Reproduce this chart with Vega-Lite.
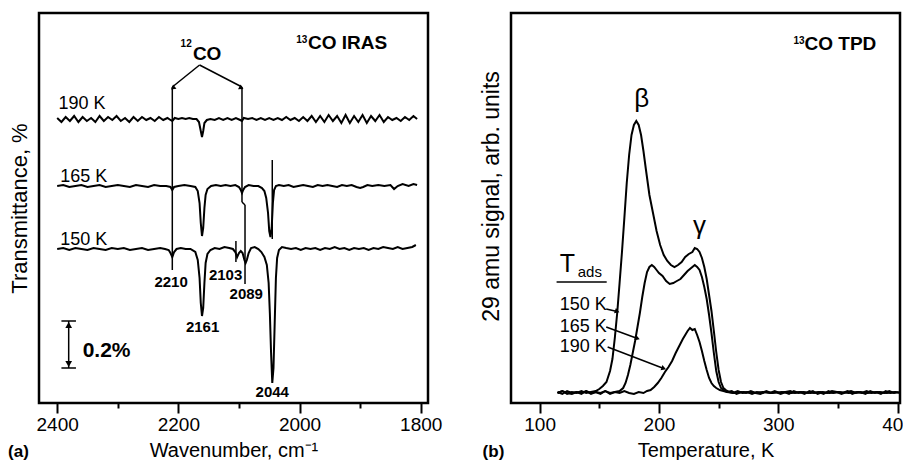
{
"$schema":"https://vega.github.io/schema/vega-lite/v6.json",
"padding":{"left":6,"top":11,"right":0,"bottom":0},
"background":"white",
"bounds":"flush",
"spacing":83,
"config":{
"view":{"stroke":"black","strokeWidth":2.5},
"font":"Liberation Sans",
"axis":{"domain":false,"grid":false,"tickColor":"black","tickWidth":2,"labelColor":"black","titleColor":"black","labelFont":"Liberation Sans","titleFont":"Liberation Sans","labelFontSize":19,"titleFontSize":20,"titleFontWeight":"normal"},
"text":{"font":"Liberation Sans","color":"black"}
},
"datasets":{
"irA":[
{"s":"190 K","x":2400,"y":285},{"s":"190 K","x":2393,"y":281},{"s":"190 K","x":2386,"y":286},{"s":"190 K","x":2379,"y":282},{"s":"190 K","x":2372,"y":287},{"s":"190 K","x":2365,"y":281},{"s":"190 K","x":2358,"y":286},{"s":"190 K","x":2351,"y":282},{"s":"190 K","x":2344,"y":285},{"s":"190 K","x":2337,"y":281},{"s":"190 K","x":2330,"y":287},{"s":"190 K","x":2323,"y":282},{"s":"190 K","x":2316,"y":286},{"s":"190 K","x":2309,"y":283},{"s":"190 K","x":2302,"y":287},{"s":"190 K","x":2295,"y":282},{"s":"190 K","x":2288,"y":285},{"s":"190 K","x":2281,"y":281},{"s":"190 K","x":2274,"y":286},{"s":"190 K","x":2267,"y":282},{"s":"190 K","x":2260,"y":286},{"s":"190 K","x":2253,"y":283},{"s":"190 K","x":2246,"y":285},{"s":"190 K","x":2239,"y":282},{"s":"190 K","x":2232,"y":286},{"s":"190 K","x":2225,"y":283},{"s":"190 K","x":2218,"y":285},{"s":"190 K","x":2213,"y":283},{"s":"190 K","x":2210,"y":282},{"s":"190 K","x":2206,"y":285},{"s":"190 K","x":2200,"y":284},{"s":"190 K","x":2194,"y":285},{"s":"190 K","x":2188,"y":284},{"s":"190 K","x":2182,"y":285},{"s":"190 K","x":2176,"y":284},{"s":"190 K","x":2170,"y":284},{"s":"190 K","x":2166,"y":281},{"s":"190 K","x":2163,"y":272},{"s":"190 K","x":2161,"y":266},{"s":"190 K","x":2159,"y":272},{"s":"190 K","x":2157,"y":280},{"s":"190 K","x":2153,"y":283},{"s":"190 K","x":2147,"y":284},{"s":"190 K","x":2140,"y":283},{"s":"190 K","x":2133,"y":285},{"s":"190 K","x":2126,"y":283},{"s":"190 K","x":2119,"y":285},{"s":"190 K","x":2112,"y":283},{"s":"190 K","x":2105,"y":285},{"s":"190 K","x":2098,"y":283},{"s":"190 K","x":2095,"y":282},{"s":"190 K","x":2092,"y":285},{"s":"190 K","x":2085,"y":284},{"s":"190 K","x":2078,"y":285},{"s":"190 K","x":2071,"y":283},{"s":"190 K","x":2064,"y":285},{"s":"190 K","x":2057,"y":283},{"s":"190 K","x":2050,"y":285},{"s":"190 K","x":2043,"y":283},{"s":"190 K","x":2036,"y":285},{"s":"190 K","x":2029,"y":283},{"s":"190 K","x":2022,"y":286},{"s":"190 K","x":2015,"y":283},{"s":"190 K","x":2008,"y":285},{"s":"190 K","x":2001,"y":282},{"s":"190 K","x":1994,"y":286},{"s":"190 K","x":1987,"y":282},{"s":"190 K","x":1980,"y":287},{"s":"190 K","x":1973,"y":281},{"s":"190 K","x":1966,"y":287},{"s":"190 K","x":1959,"y":281},{"s":"190 K","x":1952,"y":288},{"s":"190 K","x":1945,"y":282},{"s":"190 K","x":1938,"y":287},{"s":"190 K","x":1931,"y":280},{"s":"190 K","x":1924,"y":288},{"s":"190 K","x":1917,"y":280},{"s":"190 K","x":1910,"y":287},{"s":"190 K","x":1903,"y":281},{"s":"190 K","x":1896,"y":288},{"s":"190 K","x":1889,"y":280},{"s":"190 K","x":1882,"y":287},{"s":"190 K","x":1875,"y":282},{"s":"190 K","x":1868,"y":288},{"s":"190 K","x":1861,"y":281},{"s":"190 K","x":1854,"y":286},{"s":"190 K","x":1847,"y":283},{"s":"190 K","x":1840,"y":285},{"s":"190 K","x":1833,"y":282},{"s":"190 K","x":1826,"y":286},{"s":"190 K","x":1819,"y":283},{"s":"190 K","x":1812,"y":287},{"s":"190 K","x":1806,"y":284},
{"s":"165 K","x":2400,"y":217},{"s":"165 K","x":2390,"y":218},{"s":"165 K","x":2380,"y":216},{"s":"165 K","x":2370,"y":217},{"s":"165 K","x":2360,"y":218},{"s":"165 K","x":2350,"y":216},{"s":"165 K","x":2340,"y":217},{"s":"165 K","x":2330,"y":218},{"s":"165 K","x":2320,"y":216},{"s":"165 K","x":2310,"y":217},{"s":"165 K","x":2300,"y":218},{"s":"165 K","x":2290,"y":217},{"s":"165 K","x":2280,"y":216},{"s":"165 K","x":2270,"y":218},{"s":"165 K","x":2260,"y":217},{"s":"165 K","x":2250,"y":216},{"s":"165 K","x":2240,"y":218},{"s":"165 K","x":2230,"y":217},{"s":"165 K","x":2220,"y":217},{"s":"165 K","x":2213,"y":216},{"s":"165 K","x":2210,"y":213},{"s":"165 K","x":2207,"y":216},{"s":"165 K","x":2200,"y":217},{"s":"165 K","x":2190,"y":218},{"s":"165 K","x":2180,"y":217},{"s":"165 K","x":2172,"y":216},{"s":"165 K","x":2168,"y":212},{"s":"165 K","x":2165,"y":200},{"s":"165 K","x":2163,"y":180},{"s":"165 K","x":2161,"y":167},{"s":"165 K","x":2159,"y":175},{"s":"165 K","x":2157,"y":195},{"s":"165 K","x":2155,"y":208},{"s":"165 K","x":2152,"y":214},{"s":"165 K","x":2146,"y":217},{"s":"165 K","x":2138,"y":218},{"s":"165 K","x":2130,"y":217},{"s":"165 K","x":2122,"y":218},{"s":"165 K","x":2114,"y":217},{"s":"165 K","x":2106,"y":218},{"s":"165 K","x":2100,"y":216},{"s":"165 K","x":2097,"y":213},{"s":"165 K","x":2095,"y":210},{"s":"165 K","x":2093,"y":213},{"s":"165 K","x":2090,"y":216},{"s":"165 K","x":2084,"y":218},{"s":"165 K","x":2076,"y":217},{"s":"165 K","x":2068,"y":217},{"s":"165 K","x":2062,"y":215},{"s":"165 K","x":2058,"y":212},{"s":"165 K","x":2055,"y":205},{"s":"165 K","x":2052,"y":190},{"s":"165 K","x":2050,"y":172},{"s":"165 K","x":2048,"y":166},{"s":"165 K","x":2046,"y":175},{"s":"165 K","x":2044,"y":200},{"s":"165 K","x":2042,"y":213},{"s":"165 K","x":2039,"y":217},{"s":"165 K","x":2034,"y":218},{"s":"165 K","x":2026,"y":217},{"s":"165 K","x":2018,"y":218},{"s":"165 K","x":2010,"y":216},{"s":"165 K","x":2002,"y":217},{"s":"165 K","x":1994,"y":218},{"s":"165 K","x":1986,"y":217},{"s":"165 K","x":1978,"y":216},{"s":"165 K","x":1970,"y":218},{"s":"165 K","x":1962,"y":217},{"s":"165 K","x":1954,"y":218},{"s":"165 K","x":1946,"y":217},{"s":"165 K","x":1938,"y":216},{"s":"165 K","x":1930,"y":218},{"s":"165 K","x":1922,"y":217},{"s":"165 K","x":1914,"y":218},{"s":"165 K","x":1906,"y":216},{"s":"165 K","x":1900,"y":215},{"s":"165 K","x":1895,"y":216},{"s":"165 K","x":1888,"y":218},{"s":"165 K","x":1880,"y":217},{"s":"165 K","x":1870,"y":218},{"s":"165 K","x":1860,"y":217},{"s":"165 K","x":1850,"y":218},{"s":"165 K","x":1844,"y":214},{"s":"165 K","x":1838,"y":217},{"s":"165 K","x":1830,"y":219},{"s":"165 K","x":1820,"y":217},{"s":"165 K","x":1812,"y":219},{"s":"165 K","x":1806,"y":218},
{"s":"150 K","x":2400,"y":154},{"s":"150 K","x":2390,"y":155},{"s":"150 K","x":2380,"y":153},{"s":"150 K","x":2370,"y":155},{"s":"150 K","x":2360,"y":154},{"s":"150 K","x":2350,"y":153},{"s":"150 K","x":2340,"y":155},{"s":"150 K","x":2330,"y":154},{"s":"150 K","x":2320,"y":153},{"s":"150 K","x":2310,"y":155},{"s":"150 K","x":2300,"y":154},{"s":"150 K","x":2290,"y":155},{"s":"150 K","x":2280,"y":153},{"s":"150 K","x":2270,"y":154},{"s":"150 K","x":2260,"y":155},{"s":"150 K","x":2250,"y":153},{"s":"150 K","x":2240,"y":154},{"s":"150 K","x":2230,"y":155},{"s":"150 K","x":2222,"y":154},{"s":"150 K","x":2216,"y":153},{"s":"150 K","x":2213,"y":150},{"s":"150 K","x":2210,"y":146},{"s":"150 K","x":2207,"y":151},{"s":"150 K","x":2203,"y":154},{"s":"150 K","x":2196,"y":155},{"s":"150 K","x":2188,"y":154},{"s":"150 K","x":2180,"y":154},{"s":"150 K","x":2172,"y":151},{"s":"150 K","x":2168,"y":143},{"s":"150 K","x":2165,"y":125},{"s":"150 K","x":2163,"y":100},{"s":"150 K","x":2161,"y":87},{"s":"150 K","x":2159,"y":95},{"s":"150 K","x":2157,"y":120},{"s":"150 K","x":2155,"y":140},{"s":"150 K","x":2152,"y":149},{"s":"150 K","x":2147,"y":153},{"s":"150 K","x":2140,"y":155},{"s":"150 K","x":2132,"y":154},{"s":"150 K","x":2124,"y":156},{"s":"150 K","x":2116,"y":155},{"s":"150 K","x":2110,"y":154},{"s":"150 K","x":2106,"y":151},{"s":"150 K","x":2103,"y":146},{"s":"150 K","x":2100,"y":150},{"s":"150 K","x":2097,"y":152},{"s":"150 K","x":2094,"y":150},{"s":"150 K","x":2091,"y":143},{"s":"150 K","x":2089,"y":140},{"s":"150 K","x":2087,"y":143},{"s":"150 K","x":2084,"y":150},{"s":"150 K","x":2080,"y":155},{"s":"150 K","x":2074,"y":156},{"s":"150 K","x":2068,"y":154},{"s":"150 K","x":2063,"y":151},{"s":"150 K","x":2058,"y":146},{"s":"150 K","x":2054,"y":138},{"s":"150 K","x":2051,"y":120},{"s":"150 K","x":2049,"y":90},{"s":"150 K","x":2047,"y":50},{"s":"150 K","x":2045,"y":20},{"s":"150 K","x":2043,"y":35},{"s":"150 K","x":2041,"y":80},{"s":"150 K","x":2039,"y":125},{"s":"150 K","x":2037,"y":145},{"s":"150 K","x":2034,"y":153},{"s":"150 K","x":2029,"y":156},{"s":"150 K","x":2022,"y":155},{"s":"150 K","x":2014,"y":154},{"s":"150 K","x":2006,"y":155},{"s":"150 K","x":1998,"y":153},{"s":"150 K","x":1990,"y":155},{"s":"150 K","x":1982,"y":154},{"s":"150 K","x":1974,"y":155},{"s":"150 K","x":1966,"y":153},{"s":"150 K","x":1958,"y":155},{"s":"150 K","x":1950,"y":154},{"s":"150 K","x":1942,"y":156},{"s":"150 K","x":1934,"y":154},{"s":"150 K","x":1926,"y":155},{"s":"150 K","x":1918,"y":153},{"s":"150 K","x":1910,"y":155},{"s":"150 K","x":1902,"y":154},{"s":"150 K","x":1894,"y":155},{"s":"150 K","x":1886,"y":153},{"s":"150 K","x":1878,"y":155},{"s":"150 K","x":1870,"y":154},{"s":"150 K","x":1862,"y":156},{"s":"150 K","x":1854,"y":155},{"s":"150 K","x":1846,"y":154},{"s":"150 K","x":1838,"y":156},{"s":"150 K","x":1830,"y":154},{"s":"150 K","x":1822,"y":155},{"s":"150 K","x":1814,"y":156},{"s":"150 K","x":1808,"y":158}
],
"segA":[
{"x":2210,"y":316,"xe":2210,"ye":133},
{"x":2095,"y":316,"xe":2095,"ye":201},
{"x":2095,"y":201,"xe":2090,"ye":198},
{"x":2090,"y":198,"xe":2090,"ye":119},
{"x":2105,"y":162,"xe":2105,"ye":141},
{"x":2045,"y":243,"xe":2045,"ye":164},
{"x":2165,"y":338,"xe":2210,"ye":316},
{"x":2165,"y":338,"xe":2095,"ye":316},
{"x":2381,"y":82,"xe":2381,"ye":35},
{"x":2393,"y":82,"xe":2369,"ye":82},
{"x":2393,"y":35,"xe":2369,"ye":35}
],
"headA":[
{"x":2381,"y":78,"role":"up"},
{"x":2381,"y":39,"role":"down"},
{"x":2209,"y":315,"role":"toLeft"},
{"x":2096,"y":315,"role":"toRight"}
],
"noteA":[
{"x":2398,"y":294,"t":"190 K","role":"series"},
{"x":2395,"y":221,"t":"165 K","role":"series"},
{"x":2395,"y":158,"t":"150 K","role":"series"},
{"x":2212,"y":116,"t":"2210","role":"peak"},
{"x":2160,"y":71,"t":"2161","role":"peak"},
{"x":2122,"y":123,"t":"2103","role":"peak"},
{"x":2088,"y":104,"t":"2089","role":"peak"},
{"x":2045,"y":6,"t":"2044","role":"peak"},
{"x":2358,"y":46,"t":"0.2%","role":"scale"},
{"x":2176,"y":343,"t":"CO","role":"iso"},
{"x":2178,"y":356,"t":"12","role":"isosup"},
{"x":1986,"y":354,"t":"CO IRAS","role":"head"},
{"x":1987,"y":360,"t":"13","role":"headsup"},
{"x":2481,"y":-54,"t":"(a)","role":"panel"}
],
"tpd":[
{"s":"150 K","x":115,"y":10},{"s":"150 K","x":119,"y":12},{"s":"150 K","x":123,"y":9},{"s":"150 K","x":127,"y":11},{"s":"150 K","x":131,"y":10},{"s":"150 K","x":135,"y":12},{"s":"150 K","x":139,"y":10},{"s":"150 K","x":143,"y":11},{"s":"150 K","x":147,"y":12},{"s":"150 K","x":150,"y":14},{"s":"150 K","x":153,"y":17},{"s":"150 K","x":156,"y":21},{"s":"150 K","x":159,"y":32},{"s":"150 K","x":161,"y":44},{"s":"150 K","x":163,"y":65},{"s":"150 K","x":165,"y":90},{"s":"150 K","x":167,"y":120},{"s":"150 K","x":169,"y":151},{"s":"150 K","x":171,"y":185},{"s":"150 K","x":173,"y":220},{"s":"150 K","x":175,"y":248},{"s":"150 K","x":177,"y":268},{"s":"150 K","x":179,"y":278},{"s":"150 K","x":181,"y":282},{"s":"150 K","x":183,"y":278},{"s":"150 K","x":185,"y":268},{"s":"150 K","x":187,"y":252},{"s":"150 K","x":189,"y":234},{"s":"150 K","x":192,"y":208},{"s":"150 K","x":195,"y":190},{"s":"150 K","x":198,"y":172},{"s":"150 K","x":201,"y":158},{"s":"150 K","x":204,"y":148},{"s":"150 K","x":207,"y":142},{"s":"150 K","x":210,"y":138},{"s":"150 K","x":213,"y":136},{"s":"150 K","x":216,"y":138},{"s":"150 K","x":219,"y":141},{"s":"150 K","x":222,"y":146},{"s":"150 K","x":225,"y":149},{"s":"150 K","x":228,"y":151},{"s":"150 K","x":230,"y":155},{"s":"150 K","x":232,"y":154},{"s":"150 K","x":234,"y":151},{"s":"150 K","x":236,"y":145},{"s":"150 K","x":238,"y":136},{"s":"150 K","x":240,"y":124},{"s":"150 K","x":242,"y":108},{"s":"150 K","x":244,"y":92},{"s":"150 K","x":246,"y":72},{"s":"150 K","x":248,"y":51},{"s":"150 K","x":250,"y":33},{"s":"150 K","x":252,"y":21},{"s":"150 K","x":254,"y":15},{"s":"150 K","x":256,"y":13},{"s":"150 K","x":259,"y":11},{"s":"150 K","x":262,"y":10},{"s":"150 K","x":266,"y":12},{"s":"150 K","x":270,"y":10},{"s":"150 K","x":274,"y":11},{"s":"150 K","x":278,"y":9},{"s":"150 K","x":282,"y":11},{"s":"150 K","x":286,"y":10},{"s":"150 K","x":290,"y":12},{"s":"150 K","x":294,"y":10},{"s":"150 K","x":298,"y":11},{"s":"150 K","x":302,"y":9},{"s":"150 K","x":306,"y":11},{"s":"150 K","x":310,"y":12},{"s":"150 K","x":314,"y":10},{"s":"150 K","x":318,"y":11},{"s":"150 K","x":322,"y":9},{"s":"150 K","x":326,"y":12},{"s":"150 K","x":330,"y":10},{"s":"150 K","x":334,"y":11},{"s":"150 K","x":338,"y":9},{"s":"150 K","x":342,"y":12},{"s":"150 K","x":346,"y":10},{"s":"150 K","x":350,"y":11},{"s":"150 K","x":354,"y":10},{"s":"150 K","x":358,"y":12},{"s":"150 K","x":362,"y":9},{"s":"150 K","x":366,"y":11},{"s":"150 K","x":370,"y":10},{"s":"150 K","x":374,"y":12},{"s":"150 K","x":378,"y":10},{"s":"150 K","x":382,"y":11},{"s":"150 K","x":386,"y":9},{"s":"150 K","x":390,"y":12},{"s":"150 K","x":394,"y":10},{"s":"150 K","x":398,"y":11},{"s":"150 K","x":402,"y":10},
{"s":"165 K","x":115,"y":11},{"s":"165 K","x":119,"y":9},{"s":"165 K","x":123,"y":12},{"s":"165 K","x":127,"y":10},{"s":"165 K","x":131,"y":11},{"s":"165 K","x":135,"y":9},{"s":"165 K","x":139,"y":12},{"s":"165 K","x":143,"y":10},{"s":"165 K","x":147,"y":11},{"s":"165 K","x":151,"y":9},{"s":"165 K","x":155,"y":12},{"s":"165 K","x":159,"y":10},{"s":"165 K","x":163,"y":11},{"s":"165 K","x":167,"y":12},{"s":"165 K","x":170,"y":15},{"s":"165 K","x":172,"y":20},{"s":"165 K","x":174,"y":28},{"s":"165 K","x":176,"y":38},{"s":"165 K","x":178,"y":50},{"s":"165 K","x":180,"y":62},{"s":"165 K","x":182,"y":76},{"s":"165 K","x":184,"y":90},{"s":"165 K","x":186,"y":106},{"s":"165 K","x":188,"y":120},{"s":"165 K","x":190,"y":131},{"s":"165 K","x":192,"y":136},{"s":"165 K","x":194,"y":138},{"s":"165 K","x":196,"y":136},{"s":"165 K","x":198,"y":133},{"s":"165 K","x":200,"y":130},{"s":"165 K","x":203,"y":127},{"s":"165 K","x":206,"y":122},{"s":"165 K","x":209,"y":119},{"s":"165 K","x":212,"y":120},{"s":"165 K","x":215,"y":122},{"s":"165 K","x":218,"y":124},{"s":"165 K","x":221,"y":128},{"s":"165 K","x":224,"y":132},{"s":"165 K","x":227,"y":135},{"s":"165 K","x":230,"y":138},{"s":"165 K","x":232,"y":136},{"s":"165 K","x":234,"y":133},{"s":"165 K","x":236,"y":126},{"s":"165 K","x":238,"y":116},{"s":"165 K","x":240,"y":104},{"s":"165 K","x":242,"y":88},{"s":"165 K","x":244,"y":70},{"s":"165 K","x":246,"y":50},{"s":"165 K","x":248,"y":32},{"s":"165 K","x":250,"y":21},{"s":"165 K","x":252,"y":15},{"s":"165 K","x":254,"y":13},{"s":"165 K","x":257,"y":11},{"s":"165 K","x":261,"y":12},{"s":"165 K","x":265,"y":9},{"s":"165 K","x":269,"y":11},{"s":"165 K","x":273,"y":10},{"s":"165 K","x":277,"y":12},{"s":"165 K","x":281,"y":10},{"s":"165 K","x":285,"y":9},{"s":"165 K","x":289,"y":11},{"s":"165 K","x":293,"y":10},{"s":"165 K","x":297,"y":12},{"s":"165 K","x":301,"y":10},{"s":"165 K","x":305,"y":11},{"s":"165 K","x":309,"y":9},{"s":"165 K","x":313,"y":12},{"s":"165 K","x":317,"y":10},{"s":"165 K","x":321,"y":11},{"s":"165 K","x":325,"y":10},{"s":"165 K","x":329,"y":12},{"s":"165 K","x":333,"y":9},{"s":"165 K","x":337,"y":11},{"s":"165 K","x":341,"y":10},{"s":"165 K","x":345,"y":12},{"s":"165 K","x":349,"y":11},{"s":"165 K","x":353,"y":9},{"s":"165 K","x":357,"y":11},{"s":"165 K","x":361,"y":12},{"s":"165 K","x":365,"y":10},{"s":"165 K","x":369,"y":11},{"s":"165 K","x":373,"y":9},{"s":"165 K","x":377,"y":12},{"s":"165 K","x":381,"y":10},{"s":"165 K","x":385,"y":11},{"s":"165 K","x":389,"y":10},{"s":"165 K","x":393,"y":12},{"s":"165 K","x":397,"y":10},{"s":"165 K","x":401,"y":11},
{"s":"190 K","x":115,"y":10},{"s":"190 K","x":119,"y":12},{"s":"190 K","x":123,"y":10},{"s":"190 K","x":127,"y":9},{"s":"190 K","x":131,"y":11},{"s":"190 K","x":135,"y":10},{"s":"190 K","x":139,"y":12},{"s":"190 K","x":143,"y":9},{"s":"190 K","x":147,"y":11},{"s":"190 K","x":151,"y":10},{"s":"190 K","x":155,"y":12},{"s":"190 K","x":159,"y":9},{"s":"190 K","x":163,"y":11},{"s":"190 K","x":167,"y":10},{"s":"190 K","x":171,"y":12},{"s":"190 K","x":175,"y":10},{"s":"190 K","x":179,"y":9},{"s":"190 K","x":183,"y":11},{"s":"190 K","x":187,"y":10},{"s":"190 K","x":190,"y":12},{"s":"190 K","x":193,"y":13},{"s":"190 K","x":196,"y":16},{"s":"190 K","x":199,"y":20},{"s":"190 K","x":202,"y":25},{"s":"190 K","x":205,"y":31},{"s":"190 K","x":208,"y":36},{"s":"190 K","x":211,"y":42},{"s":"190 K","x":214,"y":50},{"s":"190 K","x":217,"y":57},{"s":"190 K","x":220,"y":64},{"s":"190 K","x":222,"y":68},{"s":"190 K","x":224,"y":72},{"s":"190 K","x":226,"y":75},{"s":"190 K","x":228,"y":73},{"s":"190 K","x":230,"y":74},{"s":"190 K","x":232,"y":68},{"s":"190 K","x":234,"y":61},{"s":"190 K","x":236,"y":52},{"s":"190 K","x":238,"y":42},{"s":"190 K","x":240,"y":33},{"s":"190 K","x":242,"y":25},{"s":"190 K","x":244,"y":20},{"s":"190 K","x":246,"y":17},{"s":"190 K","x":248,"y":15},{"s":"190 K","x":251,"y":13},{"s":"190 K","x":254,"y":12},{"s":"190 K","x":257,"y":11},{"s":"190 K","x":263,"y":10},{"s":"190 K","x":271,"y":11},{"s":"190 K","x":279,"y":10},{"s":"190 K","x":287,"y":11},{"s":"190 K","x":295,"y":10},{"s":"190 K","x":303,"y":11},{"s":"190 K","x":311,"y":10},{"s":"190 K","x":319,"y":11},{"s":"190 K","x":327,"y":10},{"s":"190 K","x":335,"y":11},{"s":"190 K","x":343,"y":10},{"s":"190 K","x":351,"y":11},{"s":"190 K","x":359,"y":10},{"s":"190 K","x":367,"y":11},{"s":"190 K","x":375,"y":10},{"s":"190 K","x":383,"y":11},{"s":"190 K","x":391,"y":10},{"s":"190 K","x":399,"y":11}
],
"segB":[
{"x":114.2,"y":121,"xe":156.2,"ye":121},
{"x":155.8,"y":94,"xe":165,"ye":91.5},
{"x":155.8,"y":76,"xe":182,"ye":64.5},
{"x":157,"y":56,"xe":204,"ye":34.5}
],
"headB":[
{"x":165,"y":91.5},
{"x":182,"y":64.5},
{"x":204,"y":34.5}
],
"noteB":[
{"x":185.6,"y":304,"t":"β","role":"greek"},
{"x":234,"y":177,"t":"γ","role":"greek"},
{"x":116.8,"y":131,"t":"T","role":"tads"},
{"x":131.9,"y":126,"t":"ads","role":"tsub"},
{"x":116.8,"y":93,"t":"150 K","role":"series"},
{"x":116.8,"y":71,"t":"165 K","role":"series"},
{"x":116.8,"y":51,"t":"190 K","role":"series"},
{"x":322,"y":353,"t":"CO TPD","role":"head"},
{"x":322,"y":359,"t":"13","role":"headsup"},
{"x":52.2,"y":-54,"t":"(b)","role":"panel"}
]
},
"hconcat":[
{
"width":389,"height":390,
"encoding":{
"x":{"field":"x","type":"quantitative","scale":{"domain":[1788,2430],"reverse":true,"nice":false,"zero":false},
"axis":{"title":"Wavenumber, cm⁻¹","values":[2400,2300,2200,2100,2000,1900,1800],"format":"d","labelExpr":"datum.value % 200 === 0 ? datum.label : ''","tickSize":{"condition":{"test":"datum.value % 200 === 0","value":10},"value":5},"labelPadding":2,"titlePadding":6}},
"y":{"field":"y","type":"quantitative","scale":{"domain":[0,390],"nice":false,"zero":false},
"axis":{"title":"Transmittance, %","labels":false,"ticks":false,"titlePadding":8,"titleFontSize":22}}
},
"layer":[
{"data":{"name":"irA"},"mark":{"type":"line","color":"black","strokeWidth":2},"encoding":{"detail":{"field":"s"}}},
{"data":{"name":"segA"},"mark":{"type":"rule","color":"black","strokeWidth":1.5},"encoding":{"x2":{"field":"xe"},"y2":{"field":"ye"}}},
{"data":{"name":"headA"},"transform":[{"filter":"datum.role === 'up'"}],"mark":{"type":"point","shape":"triangle-up","filled":true,"color":"black","opacity":1,"size":45}},
{"data":{"name":"headA"},"transform":[{"filter":"datum.role === 'down'"}],"mark":{"type":"point","shape":"triangle-down","filled":true,"color":"black","opacity":1,"size":45}},
{"data":{"name":"headA"},"transform":[{"filter":"datum.role === 'toLeft'"}],"mark":{"type":"point","shape":"triangle-right","angle":142,"filled":true,"color":"black","opacity":1,"size":30}},
{"data":{"name":"headA"},"transform":[{"filter":"datum.role === 'toRight'"}],"mark":{"type":"point","shape":"triangle-right","angle":28,"filled":true,"color":"black","opacity":1,"size":30}},
{"data":{"name":"noteA"},"transform":[{"filter":"datum.role === 'series'"}],"mark":{"type":"text","align":"left","baseline":"alphabetic","fontSize":18},"encoding":{"text":{"field":"t"}}},
{"data":{"name":"noteA"},"transform":[{"filter":"datum.role === 'peak'"}],"mark":{"type":"text","align":"center","baseline":"alphabetic","fontSize":15,"fontWeight":"bold"},"encoding":{"text":{"field":"t"}}},
{"data":{"name":"noteA"},"transform":[{"filter":"datum.role === 'scale'"}],"mark":{"type":"text","align":"left","baseline":"alphabetic","fontSize":21,"fontWeight":"bold"},"encoding":{"text":{"field":"t"}}},
{"data":{"name":"noteA"},"transform":[{"filter":"datum.role === 'iso'"}],"mark":{"type":"text","align":"left","baseline":"alphabetic","fontSize":19,"fontWeight":"bold"},"encoding":{"text":{"field":"t"}}},
{"data":{"name":"noteA"},"transform":[{"filter":"datum.role === 'isosup'"}],"mark":{"type":"text","align":"right","baseline":"alphabetic","fontSize":10,"fontWeight":"bold"},"encoding":{"text":{"field":"t"}}},
{"data":{"name":"noteA"},"transform":[{"filter":"datum.role === 'head'"}],"mark":{"type":"text","align":"left","baseline":"alphabetic","fontSize":19,"fontWeight":"bold"},"encoding":{"text":{"field":"t"}}},
{"data":{"name":"noteA"},"transform":[{"filter":"datum.role === 'headsup'"}],"mark":{"type":"text","align":"right","baseline":"alphabetic","fontSize":10,"fontWeight":"bold"},"encoding":{"text":{"field":"t"}}},
{"data":{"name":"noteA"},"transform":[{"filter":"datum.role === 'panel'"}],"mark":{"type":"text","align":"left","baseline":"alphabetic","fontSize":17,"fontWeight":"bold"},"encoding":{"text":{"field":"t"}}}
]
},
{
"width":389,"height":390,
"encoding":{
"x":{"field":"x","type":"quantitative","scale":{"domain":[76,402],"nice":false,"zero":false},
"axis":{"title":"Temperature, K","values":[100,150,200,250,300,350,400],"format":"d","labelExpr":"datum.value % 100 === 0 ? datum.label : ''","tickSize":{"condition":{"test":"datum.value % 100 === 0","value":10},"value":5},"labelPadding":2,"titlePadding":6}},
"y":{"field":"y","type":"quantitative","scale":{"domain":[0,390],"nice":false,"zero":false},
"axis":{"title":"29 amu signal, arb. units","labels":false,"ticks":false,"titlePadding":8,"titleFontSize":23,"titleY":183}}
},
"layer":[
{"data":{"name":"tpd"},"mark":{"type":"line","color":"black","strokeWidth":2},"encoding":{"detail":{"field":"s"}}},
{"data":{"name":"segB"},"mark":{"type":"rule","color":"black","strokeWidth":1.5},"encoding":{"x2":{"field":"xe"},"y2":{"field":"ye"}}},
{"data":{"name":"headB"},"mark":{"type":"point","shape":"triangle-right","angle":20,"filled":true,"color":"black","opacity":1,"size":30}},
{"data":{"name":"noteB"},"transform":[{"filter":"datum.role === 'greek'"}],"mark":{"type":"text","align":"center","baseline":"middle","fontSize":26},"encoding":{"text":{"field":"t"}}},
{"data":{"name":"noteB"},"transform":[{"filter":"datum.role === 'tads'"}],"mark":{"type":"text","align":"left","baseline":"alphabetic","fontSize":25},"encoding":{"text":{"field":"t"}}},
{"data":{"name":"noteB"},"transform":[{"filter":"datum.role === 'tsub'"}],"mark":{"type":"text","align":"left","baseline":"alphabetic","fontSize":15},"encoding":{"text":{"field":"t"}}},
{"data":{"name":"noteB"},"transform":[{"filter":"datum.role === 'series'"}],"mark":{"type":"text","align":"left","baseline":"alphabetic","fontSize":18},"encoding":{"text":{"field":"t"}}},
{"data":{"name":"noteB"},"transform":[{"filter":"datum.role === 'head'"}],"mark":{"type":"text","align":"left","baseline":"alphabetic","fontSize":19,"fontWeight":"bold"},"encoding":{"text":{"field":"t"}}},
{"data":{"name":"noteB"},"transform":[{"filter":"datum.role === 'headsup'"}],"mark":{"type":"text","align":"right","baseline":"alphabetic","fontSize":10,"fontWeight":"bold"},"encoding":{"text":{"field":"t"}}},
{"data":{"name":"noteB"},"transform":[{"filter":"datum.role === 'panel'"}],"mark":{"type":"text","align":"left","baseline":"alphabetic","fontSize":17,"fontWeight":"bold"},"encoding":{"text":{"field":"t"}}}
]
}
]
}
